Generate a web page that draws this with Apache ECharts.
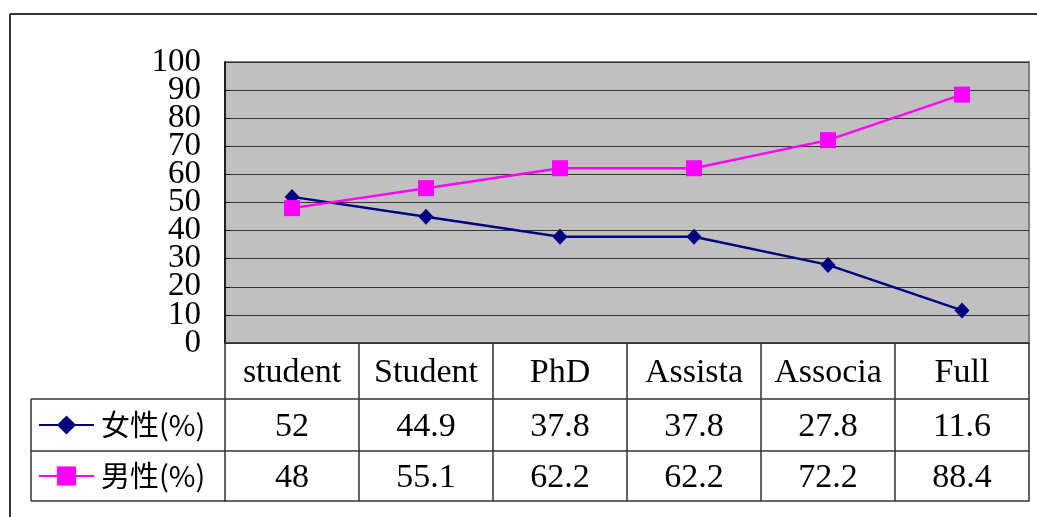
<!DOCTYPE html>
<html>
<head>
<meta charset="utf-8">
<script src="https://cdn.jsdelivr.net/npm/echarts@6/dist/echarts.min.js"></script>
<style>
  html, body { margin: 0; padding: 0; background: #fff; }
  #chart { width: 1037px; height: 517px; }
</style>
</head>
<body>
<div id="chart"></div>
<script>
// Categories and series values
const categories = ['student', 'Student', 'PhD', 'Assista', 'Associa', 'Full'];
const femaleName = '女性(%)';
const maleName = '男性(%)';
const female = [52, 44.9, 37.8, 37.8, 27.8, 11.6];
const male = [48, 55.1, 62.2, 62.2, 72.2, 88.4];
const yTicks = { min: 0, max: 100, interval: 10 };

const serif = '"Liberation Serif", "DejaVu Serif", serif';
const cjk = '"Noto Sans CJK TC", "Noto Sans CJK SC", sans-serif';
const tableLine = { color: '#333', width: 1.5 };

// Grid box (plot area) in pixels
const G = { left: 225, top: 62, right: 8, bottom: 174 };
const rowH = [56, 52, 50];

function tableAxis(offset, tickLen, margin, values) {
  return {
    type: 'category',
    position: 'bottom',
    data: categories,
    offset: offset,
    boundaryGap: true,
    axisLine: { show: true, onZero: false, lineStyle: tableLine },
    axisTick: { show: tickLen > 0, length: tickLen, interval: 0, lineStyle: tableLine },
    axisLabel: {
      show: !!values,
      interval: 0,
      margin: margin,
      verticalAlign: 'middle',
      color: '#000',
      fontFamily: serif,
      fontSize: 34,
      formatter: values ? (v, i) => String(values[i]) : undefined
    },
    splitLine: { show: false }
  };
}

const yLabelStyle = { color: '#000', fontFamily: serif, fontSize: 33, margin: 24, padding: [9, 0, 0, 0] };

const chart = echarts.init(document.getElementById('chart'), null, { renderer: 'canvas' });

const H = 517, W = 1037;
const plotBottom = H - G.bottom;
const r1 = plotBottom + rowH[0];
const r2 = r1 + rowH[1];
const r3 = r2 + rowH[2];
const legendLeft = 31;

const legendBase = {
  left: 38, padding: 0, itemWidth: 55, itemHeight: 24, itemGap: 0, selectedMode: false,
  textStyle: { color: '#000', fontFamily: cjk, fontSize: 29, lineHeight: 30, padding: [0, 0, 0, 2] }
};

chart.setOption({
  animation: false,
  backgroundColor: '#fff',
  grid: {
    left: G.left, top: G.top, right: G.right, bottom: G.bottom,
    show: true, backgroundColor: '#C0C0C0', borderColor: '#808080', borderWidth: 2
  },
  xAxis: [
    tableAxis(0, rowH[0], 30, categories),
    tableAxis(rowH[0], rowH[1], 28, female),
    tableAxis(rowH[0] + rowH[1], rowH[2], 27, male),
    tableAxis(rowH[0] + rowH[1] + rowH[2], 0, 0, null)
  ],
  yAxis: [
    {
      // gridlines, ticks and inner labels
      type: 'value', position: 'left',
      min: yTicks.min, max: yTicks.max, interval: yTicks.interval,
      axisLine: { show: true, onZero: false, lineStyle: { color: '#000', width: 1.5 } },
      axisTick: { show: true, inside: true, length: 5, lineStyle: { color: '#000' } },
      axisLabel: Object.assign({ showMinLabel: false, showMaxLabel: false }, yLabelStyle),
      splitLine: { show: true, lineStyle: { color: '#333', width: 1 } }
    },
    {
      // end labels of the same scale
      type: 'value', position: 'left',
      min: yTicks.min, max: yTicks.max, interval: yTicks.max - yTicks.min,
      axisLine: { show: false, onZero: false }, axisTick: { show: false }, splitLine: { show: false },
      axisLabel: Object.assign({ showMinLabel: true, showMaxLabel: true }, yLabelStyle)
    }
  ],
  legend: [
    Object.assign({ data: [femaleName], top: (r1 + r2) / 2 - 15 }, legendBase),
    Object.assign({ data: [maleName], top: (r2 + r3) / 2 - 15 }, legendBase)
  ],
  series: [
    {
      name: femaleName, type: 'line', data: female, yAxisIndex: 0,
      symbol: 'diamond', symbolSize: [15, 16],
      lineStyle: { color: '#000080', width: 2.5 },
      itemStyle: { color: '#000080' }
    },
    {
      name: maleName, type: 'line', data: male, yAxisIndex: 0,
      symbol: 'rect', symbolSize: 16,
      lineStyle: { color: '#FF00FF', width: 2.5 },
      itemStyle: { color: '#FF00FF' }
    }
  ],
  graphic: [
    // outer frame (top and left edges)
    { type: 'line', shape: { x1: 10, y1: 14, x2: W, y2: 14 }, style: { stroke: '#333', lineWidth: 2 } },
    { type: 'line', shape: { x1: 10, y1: 14, x2: 10, y2: H }, style: { stroke: '#333', lineWidth: 2 } },
    // legend column of the data table
    { type: 'line', shape: { x1: legendLeft, y1: r1, x2: G.left, y2: r1 }, style: { stroke: '#333', lineWidth: 1.5 } },
    { type: 'line', shape: { x1: legendLeft, y1: r2, x2: G.left, y2: r2 }, style: { stroke: '#333', lineWidth: 1.5 } },
    { type: 'line', shape: { x1: legendLeft, y1: r3, x2: G.left, y2: r3 }, style: { stroke: '#333', lineWidth: 1.5 } },
    { type: 'line', shape: { x1: legendLeft, y1: r1, x2: legendLeft, y2: r3 }, style: { stroke: '#333', lineWidth: 1.5 } }
  ]
});
</script>
</body>
</html>
